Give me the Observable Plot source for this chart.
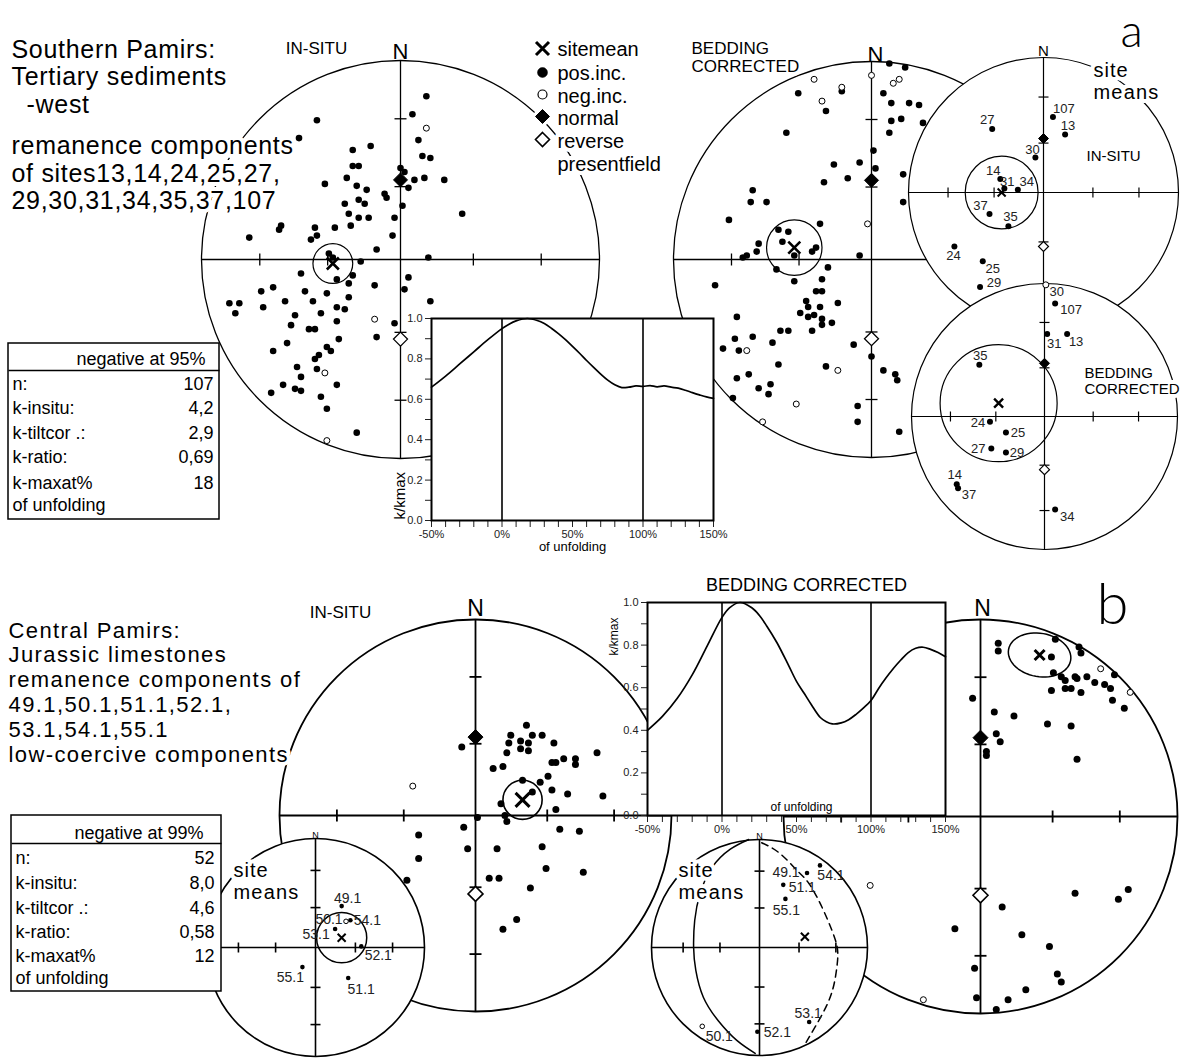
<!DOCTYPE html>
<html>
<head>
<meta charset="utf-8">
<title>Pamirs palaeomagnetic fold tests</title>
<script src="https://cdn.jsdelivr.net/npm/d3@7"></script>
<script src="https://cdn.jsdelivr.net/npm/@observablehq/plot@0.6"></script>
<style>
  html, body { margin: 0; padding: 0; background: #fff; }
  #figure { position: relative; width: 1184px; height: 1058px; overflow: hidden; background: #fff; }
  #figure > svg { position: absolute; }
</style>
</head>
<body>
<div id="figure"></div>
<script>
// ======================= DATA =======================
// Directions are equal-area net coordinates (east, north), in percent of the net radius.

// (a) Southern Pamirs, Tertiary sediments (west) – specimen directions
const spInsituDown = [[13,82],[6,73],[-42,70],[-51,61],[-15,57],[-24,55],[9,60],[11,52],[15,51],[-24,47],[-21,47],[0,46],[2,44],[4,36],[7,40],[12,41],[22,40],[-38,38],[-27,41],[-22,37],[-17,35],[-8,33],[-7,31],[-21,30],[-18,28],[-28,28],[1,27],[-26,23],[-21,21],[-16,21],[-3,21],[-25,17],[-33,16],[-43,16],[-60,17],[-61,15],[-76,11],[-42,12],[-45,10],[-4,12],[-12,5],[-36,3],[-34,1],[-20,-1],[14,1],[31,23],
  [-50,-7],[-32,-10],[-24,-8],[-26,-12],[-64,-14],[-70,-16],[-48,-16],[-37,-17],[-26,-19],[-13,-13],[2,-15],[4,-9],[15,-21],[-86,-22],[-81,-22],[-83,-27],[-69,-24],[-58,-21],[-44,-21],[-53,-28],[-40,-27],[-32,-24],[-28,-25],[-32,-31],[-55,-33],[-46,-35],[-43,-35],[-3,-32],[-12,-39],[-31,-40],[-64,-46],[-57,-42],[-37,-44],[-35,-46],[-41,-48],[-43,-50],[-52,-54],[-42,-55],[-50,-59],[-59,-63],[-65,-67],[-53,-65],[-50,-66],[-32,-63],[-40,-69],[-37,-75],[-22,-87]];
const spInsituUp = [[13,66],[-13,-30],[-38,-57],[-37,-91]];
const spTiltDown = [[9,99],[17,97],[-15,85],[-37,84],[-23,75],[6,84],[10,79],[19,79],[24,78],[10,70],[15,71],[26,69],[9,64],[-43,64],[1,55],[-19,48],[-6,49],[2,46],[-12,41],[-24,39],[16,43],[16,29],[-60,35],[-61,29],[-53,29],[-72,20],[-47,15],[-42,14],[-26,18],[-45,9],[-57,8],[-58,4],[-28,6],[-30,4],[-65,1],[-63,2],[-39,2],[-6,2],
  [-48,-5],[-39,-11],[-22,-4],[-25,-10],[-79,-13],[-28,-16],[-25,-16],[-33,-21],[-17,-22],[-32,-24],[-26,-24],[-36,-27],[-32,-29],[-29,-28],[-25,-30],[-25,-33],[-20,-32],[-68,-29],[-46,-36],[-42,-36],[-30,-36],[-60,-39],[-69,-40],[-50,-42],[-75,-45],[-67,-46],[-9,-43],[0,-49],[-47,-53],[-23,-54],[6,-56],[12,-58],[13,-61],[-62,-58],[-68,-60],[-57,-65],[-51,-63],[-52,-68],[-70,-70],[-7,-74],[-7,-82],[14,-87]];
const spTiltUp = [[-29,91],[0,93],[11,89],[14,91],[-15,87],[-25,80],[-2,18],[-63,-46],[-17,-56],[-38,-73],[-55,-82]];
const spInsituMean = [-34, -2], spInsituA95 = 10;
const spTiltMean = [-39, 6], spTiltA95 = 14;

// (a) site means
const spSites = ["13","14","24","25","27","29","30","31","34","35","37","107"];
const spSiteInsitu = [[16,43],[-32,10],[-66,-40],[-45,-51],[-38,47],[-47,-70],[-6,26],[-29,3],[-19,2],[-26,-25],[-40,-16],[7,56]];
const spSiteTilt = [[17,62],[-66,-51],[-41,-4],[-29,-12],[-40,-24],[-29,-27],[1,99],[2,62],[8,-70],[-49,39],[-65,-54],[8,85]];
const spSiteInsituUp = [];
const spSiteTiltUp = ["30"];
const spSiteInsituMean = [-31, 0], spSiteInsituA95 = 27;
const spSiteTiltMean = [-34.5, 10], spSiteTiltA95 = 44;

// (b) Central Pamirs, Jurassic limestones – specimen directions
const cpInsituDown = [[-7,35],[26,46],[18,41],[29,41],[34,41],[17,37],[23,38],[27,37],[23,34],[27,33],[16,32],[40,37],[9,24],[14,25],[39,27],[41,27],[45,29],[51,29],[51,26],[62,32],[37,20],[33,17],[24,18],[29,12],[39,13],[47,11],[65,10],[13,6],[41,3],[1,-1],[15,0],[16,-3],[-6,-6],[-29,-10],[43,-7],[53,-8],[-4,-17],[11,-17],[34,-16],[-29,-22],[36,-27],[55,-29],[-35,-33],[7,-32],[12,-32],[28,-37],[21,-53],[14,-58]];
const cpInsituUp = [[-32,15]];
const cpTiltDown = [[9,88],[9,84],[38,90],[36,81],[50,86],[51,83],[68,72],[37,73],[41,71],[43,69],[48,71],[49,70],[54,71],[43,65],[46,65],[36,64],[51,63],[58,68],[63,67],[66,65],[67,59],[73,55],[-4,60],[7,53],[17,51],[34,47],[46,46],[8,42],[10,38],[3,33],[3,31],[49,29],
  [48,-39],[75,-37],[70,-42],[11,-46],[-13,-57],[21,-60],[35,-66],[-3,-77],[39,-80],[41,-84],[23,-88],[14,-93],[-2,-92],[8,-98]];
const cpTiltUp = [[61,75],[76,63],[-29,-93],[-56,-35]];
const cpInsituMean = [24, 8], cpInsituA95 = 10;
const cpTiltMean = [30, 82];
const cpTiltConfidence = {major: 16, minor: 11, tilt: -10};

// (b) site means
const cpSites = ["49.1","50.1","51.1","52.1","53.1","54.1","55.1"];
const cpSiteInsitu = [[24,38],[28,24],[30,-28],[42,1],[18,17],[32,25],[-12,-18]];
const cpSiteTilt = [[44,69],[-53,-73],[22,58],[-2,-78],[46,-69],[56,76],[24,45]];
const cpSiteUp = ["50.1"];
const cpSiteInsituMean = [24, 9], cpSiteInsituA95 = 23;
const cpSiteTiltMean = [42, 10];
const cpGreatCircleSolid = [[-10,100],[-27,91],[-44,74],[-55,50],[-60,25],[-61,0],[-59,-21],[-52,-46],[-38,-68],[-21,-86],[-4,-98]];
const cpGreatCircleDashed = [[2,97],[19,87],[35,71],[46,59],[58,37],[67,16],[72,0],[72,-15],[69,-34],[63,-52],[53,-71],[43,-88]];

// present geomagnetic field direction
const fieldNormal = [0, 40];
const fieldReverse = [0, -40];

// fold tests: k / kmax against percentage of unfolding
const unfoldingA = [-50,-40,-30,-20,-10,0,5,10,18,25,30,35,40,45,50,55,60,65,70,75,80,85,90,95,100,105,110,115,120,125,130,135,140,145,150];
const kRatioA = [0.66,0.715,0.775,0.835,0.895,0.95,0.972,0.988,1.0,0.99,0.975,0.952,0.925,0.895,0.862,0.828,0.792,0.758,0.725,0.695,0.672,0.658,0.66,0.666,0.664,0.668,0.662,0.666,0.66,0.655,0.645,0.633,0.622,0.612,0.605];
const unfoldingB = [-50,-40,-30,-20,-10,0,5,12,20,25,30,37,45,50,55,60,66,70,74,80,85,90,95,100,105,110,115,120,125,130,135,140,145,150];
const kRatioB = [0.40,0.465,0.55,0.66,0.795,0.93,0.975,1.0,0.975,0.94,0.89,0.81,0.70,0.63,0.575,0.52,0.46,0.44,0.43,0.435,0.45,0.475,0.505,0.54,0.595,0.645,0.69,0.73,0.765,0.785,0.79,0.78,0.765,0.745];

// statistics tables
const statLabels = ["n:", "k-insitu:", "k-tiltcor .:", "k-ratio:", "k-maxat%", "of unfolding"];
const statsA = ["107", "4,2", "2,9", "0,69", "18", ""];
const statsB = ["52", "8,0", "4,6", "0,58", "12", ""];
const statHeaderA = "negative at 95%";
const statHeaderB = "negative at 99%";

// texts
const titleA = ["Southern Pamirs:", "Tertiary sediments", "-west"];
const subtitleA = ["remanence components", "of sites13,14,24,25,27,", "29,30,31,34,35,37,107"];
const titleB = ["Central Pamirs:", "Jurassic limestones", "remanence components of", "49.1,50.1,51.1,52.1,", "53.1,54.1,55.1", "low-coercive components"];
const legendLabels = ["sitemean", "pos.inc.", "neg.inc.", "normal", "reverse", "presentfield"];

// ======================= LAYOUT =======================
const FONT = "'Liberation Sans', Arial, Helvetica, sans-serif";
const nets = {
  spInsitu: {cx: 400, cy: 259, R: 199, lw: 1.3, tick: 6},
  spTilt:   {cx: 871, cy: 259, R: 198, lw: 1.3, tick: 6},
  spSiteIn: {cx: 1043, cy: 192, R: 135, lw: 1.2, tick: 5},
  spSiteTc: {cx: 1044, cy: 416, R: 133, lw: 1.2, tick: 5},
  cpInsitu: {cx: 475, cy: 815, R: 196, lw: 1.8, tick: 6},
  cpTilt:   {cx: 980, cy: 816, R: 197, lw: 1.8, tick: 6},
  cpSiteIn: {cx: 315, cy: 947, R: 109, lw: 1.6, tick: 5},
  cpSiteTc: {cx: 759, cy: 947, R: 108, lw: 1.6, tick: 5}
};
// label offsets (px) of the site numbers
const spSiteInsituLabel = {"13":[3,-9],"14":[-7,-8],"24":[-1,9],"25":[10,7],"27":[-5,-9],"29":[14,-4],"30":[-3,-8],"31":[3,-7],"34":[9,-8],"35":[2,-9],"37":[-9,-8],"107":[11,-8]};
const spSiteTiltLabel = {"13":[9,8],"14":[-2,-10],"24":[-12,1],"25":[12,0],"27":[-13,0],"29":[11,0],"30":[11,7],"31":[7,10],"34":[12,7],"35":[1,-9],"37":[11,7],"107":[16,6]};
const cpSiteInsituLabel = {"49.1":[6,-8],"50.1":[-17,-2],"51.1":[13,11],"52.1":[17,9],"53.1":[-19,6],"54.1":[17,0],"55.1":[-12,10]};
const cpSiteTiltLabel = {"49.1":[-21,0],"50.1":[17,10],"51.1":[19,3],"52.1":[20,1],"53.1":[-1,-9],"54.1":[11,10],"55.1":[1,12]};
// extra letter spacing (px) of the wide heading lettering
const letterSpacing = new Map([
  ...titleA.map(t => [t, 0.7]), ...subtitleA.map(t => [t, 0.7]),
  ...titleB.map(t => [t, 1.4]), ["site", 1], ["means", 1.2]
]);

// ======================= HELPERS =======================
const fig = document.getElementById("figure");
function place(svg, left, top) {
  svg.style.position = "absolute";
  svg.style.left = `${left}px`;
  svg.style.top = `${top}px`;
  fig.appendChild(svg);
}
const E = d => d[0], N = d => d[1];
const cross = h => ({draw(ctx) { ctx.moveTo(-h, -h); ctx.lineTo(h, h); ctx.moveTo(h, -h); ctx.lineTo(-h, h); }});
const rhomb = h => ({draw(ctx) { ctx.moveTo(0, -h); ctx.lineTo(h, 0); ctx.lineTo(0, h); ctx.lineTo(-h, 0); ctx.closePath(); }});

// equal-area radius (percent) of the 30° and 60° inclination ticks
const tickInclinations = [30, 60];
const eqAreaRadius = inc => Math.SQRT2 * Math.sin(((90 - inc) / 2) * Math.PI / 180) * 100;

function drawNet(L, marks) {
  const pad = 18, size = 2 * L.R + 2 * pad;
  const t = (L.tick / L.R) * 100;
  const rho = tickInclinations.map(eqAreaRadius).flatMap(r => [r, -r]);
  const seg = {x1: "x1", y1: "y1", x2: "x2", y2: "y2", stroke: "black", strokeWidth: L.lw};
  const svg = Plot.plot({
    width: size, height: size, margin: pad,
    x: {domain: [-100, 100], axis: null},
    y: {domain: [-100, 100], axis: null},
    style: {background: "transparent", overflow: "visible", fontFamily: FONT},
    marks: [
      Plot.dot([{e: 0, n: 0}], {x: "e", y: "n", r: L.R, fill: "white", stroke: "black", strokeWidth: L.lw}),
      Plot.link([{x1: -100, y1: 0, x2: 100, y2: 0}, {x1: 0, y1: -100, x2: 0, y2: 100}], seg),
      Plot.link(rho.map(r => ({x1: r, x2: r, y1: -t, y2: t})), seg),
      Plot.link(rho.map(r => ({x1: -t, x2: t, y1: r, y2: r})), seg),
      ...marks
    ]
  });
  place(svg, L.cx - L.R - pad, L.cy - L.R - pad);
}
const downDots = (data, r) => Plot.dot(data, {x: E, y: N, r, fill: "black", stroke: "none"});
const upDots = (data, r) => Plot.dot(data, {x: E, y: N, r, fill: "white", stroke: "black", strokeWidth: 1});
const fieldMarks = (h, sw) => [
  Plot.dot([fieldNormal], {x: E, y: N, symbol: rhomb(h), fill: "black", stroke: "black", strokeWidth: 1}),
  Plot.dot([fieldReverse], {x: E, y: N, symbol: rhomb(h), fill: "white", stroke: "black", strokeWidth: sw})
];
const meanMark = (m, h, sw) => Plot.dot([m], {x: E, y: N, symbol: cross(h), fill: "none", stroke: "black", strokeWidth: sw});
const coneMark = (m, a95, L, sw) => Plot.dot([m], {x: E, y: N, r: (a95 / 100) * L.R, fill: "none", stroke: "black", strokeWidth: sw});
function siteMarks(sites, coords, up, offsets, r, fontSize) {
  const rec = sites.map((s, i) => ({site: s, e: coords[i][0], n: coords[i][1], up: up.includes(s)}));
  return [
    Plot.dot(rec.filter(d => !d.up), {x: "e", y: "n", r, fill: "black"}),
    Plot.dot(rec.filter(d => d.up), {x: "e", y: "n", r, fill: "white", stroke: "black", strokeWidth: 1}),
    ...rec.map(d => Plot.text([d], {x: "e", y: "n", text: "site", dx: offsets[d.site][0], dy: offsets[d.site][1],
      fontSize, fill: "#222", lineAnchor: "middle", textAnchor: "middle", fontFamily: FONT}))
  ];
}

// ======================= NETS =======================
drawNet(nets.spInsitu, [
  coneMark(spInsituMean, spInsituA95, nets.spInsitu, 1.2),
  downDots(spInsituDown, 3.3), upDots(spInsituUp, 3),
  ...fieldMarks(7, 1.3),
  meanMark(spInsituMean, 6, 2.6)
]);
drawNet(nets.spTilt, [
  coneMark(spTiltMean, spTiltA95, nets.spTilt, 1.2),
  downDots(spTiltDown, 3.3), upDots(spTiltUp, 3),
  ...fieldMarks(7, 1.3),
  meanMark(spTiltMean, 6, 2.6)
]);
drawNet(nets.spSiteIn, [
  coneMark(spSiteInsituMean, spSiteInsituA95, nets.spSiteIn, 1.2),
  ...siteMarks(spSites, spSiteInsitu, spSiteInsituUp, spSiteInsituLabel, 3, 13),
  ...fieldMarks(5, 1.2),
  meanMark(spSiteInsituMean, 4, 2)
]);
drawNet(nets.spSiteTc, [
  coneMark(spSiteTiltMean, spSiteTiltA95, nets.spSiteTc, 1.2),
  ...siteMarks(spSites, spSiteTilt, spSiteTiltUp, spSiteTiltLabel, 3, 13),
  ...fieldMarks(5, 1.2),
  meanMark(spSiteTiltMean, 4.5, 2.4)
]);

// confidence ellipse of the tilt-corrected Central Pamirs mean
const phi = cpTiltConfidence.tilt * Math.PI / 180;
const cpTiltEllipse = d3.range(0, 361, 6).map(a => {
  const t = a * Math.PI / 180, u = cpTiltConfidence.major * Math.cos(t), v = cpTiltConfidence.minor * Math.sin(t);
  return [cpTiltMean[0] + u * Math.cos(phi) - v * Math.sin(phi), cpTiltMean[1] + u * Math.sin(phi) + v * Math.cos(phi)];
});

drawNet(nets.cpInsitu, [
  coneMark(cpInsituMean, cpInsituA95, nets.cpInsitu, 1.6),
  downDots(cpInsituDown, 3.5), upDots(cpInsituUp, 3),
  ...fieldMarks(7.5, 1.6),
  meanMark(cpInsituMean, 7, 3)
]);
drawNet(nets.cpTilt, [
  Plot.line(cpTiltEllipse, {x: E, y: N, stroke: "black", strokeWidth: 1.5}),
  downDots(cpTiltDown, 3.5), upDots(cpTiltUp, 3),
  ...fieldMarks(7.5, 1.6),
  meanMark(cpTiltMean, 5, 3)
]);
drawNet(nets.cpSiteTc, [
  Plot.line(cpGreatCircleSolid, {x: E, y: N, curve: "natural", stroke: "black", strokeWidth: 1.5}),
  Plot.line(cpGreatCircleDashed, {x: E, y: N, curve: "natural", stroke: "black", strokeWidth: 1.5, strokeDasharray: "7,5"}),
  ...siteMarks(cpSites, cpSiteTilt, cpSiteUp, cpSiteTiltLabel, 2.3, 14),
  meanMark(cpSiteTiltMean, 4, 2)
]);
drawNet(nets.cpSiteIn, [
  coneMark(cpSiteInsituMean, cpSiteInsituA95, nets.cpSiteIn, 1.5),
  ...siteMarks(cpSites, cpSiteInsitu, cpSiteUp, cpSiteInsituLabel, 2.3, 14),
  meanMark(cpSiteInsituMean, 4, 2)
]);

// ======================= TEXT & TABLES =======================
const halo = {fill: "black", stroke: "white", strokeWidth: 8, paintOrder: "stroke", strokeLinejoin: "round", fontFamily: FONT};
const lines = (texts, xs, ys, fontSize, extra = {}) => Plot.text(texts, {
  x: (d, i) => (Array.isArray(xs) ? xs[i] : xs), y: (d, i) => ys[i], text: d => d,
  fontSize, textAnchor: "start", lineAnchor: "bottom", ...halo, ...extra
});
function tableMarks(header, values, T) {
  return [
    Plot.rect([T], {x1: "x1", x2: "x2", y1: "y1", y2: "y2", fill: "white", stroke: "black", strokeWidth: 1.5}),
    Plot.link([T], {x1: "x1", x2: "x2", y1: "sep", y2: "sep", stroke: "black", strokeWidth: 1.5}),
    Plot.text([header], {x: () => T.headerX, y: () => T.headerY, text: d => d, textAnchor: "end", lineAnchor: "bottom", fontSize: 18, fontFamily: FONT}),
    Plot.text(statLabels, {x: () => T.labelX, y: (d, i) => T.rowY[i], text: d => d, textAnchor: "start", lineAnchor: "bottom", fontSize: 18, fontFamily: FONT}),
    Plot.text(values, {x: () => T.valueX, y: (d, i) => T.rowY[i], text: d => d, textAnchor: "end", lineAnchor: "bottom", fontSize: 18, fontFamily: FONT})
  ];
}
const tableA = {x1: 8, x2: 219, y1: 343, y2: 519, sep: 370, headerX: 205, headerY: 364, labelX: 12, valueX: 213, rowY: [389, 413, 438, 462, 488, 510]};
const tableB = {x1: 11, x2: 221, y1: 815, y2: 991, sep: 843, headerX: 203, headerY: 838, labelX: 15, valueX: 214, rowY: [863, 888, 913, 937, 961, 983]};

const legendY = [48, 72, 94, 116, 139];
const legendSymbols = [
  {symbol: cross(6.5), fill: "none", stroke: "black", strokeWidth: 3},
  {r: 5, fill: "black", stroke: "black", strokeWidth: 0.5},
  {r: 4.5, fill: "white", stroke: "black", strokeWidth: 1.2},
  {symbol: rhomb(7), fill: "black", stroke: "black", strokeWidth: 1},
  {symbol: rhomb(7), fill: "white", stroke: "black", strokeWidth: 1.6}
];
const northLabels = [
  {x: 400, y: 58, s: 22}, {x: 875, y: 61, s: 22}, {x: 1043, y: 55, s: 15},
  {x: 475, y: 615, s: 23}, {x: 982, y: 615, s: 23}, {x: 315, y: 837, s: 9}, {x: 759, y: 838, s: 9}
];

const annotation = Plot.plot({
  width: 1184, height: 1058, margin: 0,
  x: {domain: [0, 1184], range: [0, 1184], axis: null},
  y: {domain: [0, 1058], range: [0, 1058], axis: null},
  style: {background: "transparent", overflow: "visible", fontFamily: FONT},
  marks: [
    // (a) headings
    lines(titleA, [11, 11, 26], [57, 84, 112], 25),
    lines(subtitleA, 11, [153, 181, 208], 25),
    lines(["IN-SITU"], 316, [53], 17, {textAnchor: "middle"}),
    lines(["BEDDING", "CORRECTED"], 691, [53, 71], 17),
    lines(["site", "means"], 1093, [76, 98.5], 20),
    lines(["IN-SITU"], 1086, [160], 15),
    lines(["BEDDING", "CORRECTED"], 1084, [377, 393], 15),
    // legend
    ...legendSymbols.map((s, i) => Plot.dot([i], {x: () => 542, y: () => legendY[i], ...s, stroke: "white", strokeWidth: 7, fill: "white"})),
    ...legendSymbols.map((s, i) => Plot.dot([i], {x: () => 542, y: () => legendY[i], ...s})),
    lines(legendLabels, 557, [55, 79, 102, 124, 147, 170], 20),
    // (b) headings
    lines(titleB, 8, [637, 661.8, 686.6, 711.4, 736.2, 761], 22),
    lines(["IN-SITU"], 340, [617], 17, {textAnchor: "middle"}),
    lines(["site", "means"], 233, [876, 898.5], 20),
    lines(["site", "means"], 678, [876, 898.5], 20),
    // north labels
    Plot.text(northLabels, {x: "x", y: "y", text: () => "N", fontSize: d => d.s, textAnchor: "middle", lineAnchor: "bottom", fontFamily: FONT}),
    // panel letters
    Plot.text(["a", "b"], {x: (d, i) => [1131, 1112][i], y: (d, i) => [46, 623][i], text: d => d, fontSize: (d, i) => [46, 58][i],
      fontWeight: 300, textAnchor: "middle", lineAnchor: "bottom", fontFamily: "Lato, 'Open Sans', sans-serif"}),
    // statistics tables
    ...tableMarks(statHeaderA, statsA, tableA),
    ...tableMarks(statHeaderB, statsB, tableB)
  ]
});
// widen the heading lettering
annotation.querySelectorAll("text").forEach(el => {
  const s = letterSpacing.get(el.textContent);
  if (s) el.style.letterSpacing = `${s}px`;
});
place(annotation, 0, 0);

// ======================= FOLD-TEST CURVES =======================
const xTicks = d3.range(-50, 151, 10);
const yTicks = d3.range(0, 1.0001, 0.1);
const axisStyle = {background: "transparent", overflow: "visible", fontFamily: FONT, fontSize: "11px", color: "#222"};
function foldChart(unfolding, k, dims, extraMarks) {
  return Plot.plot({
    ...dims,
    x: {domain: [-50, 150], ticks: xTicks, tickFormat: d => (d % 50 === 0 ? `${d}%` : ""), tickSize: 7, label: null},
    y: {domain: [0, 1], ticks: yTicks, tickFormat: d => (Math.round(d * 10) % 2 === 0 ? d.toFixed(1) : ""), tickSize: 6, label: null},
    style: axisStyle,
    marks: [
      Plot.rect([0], {x1: -50, x2: 150, y1: 0, y2: 1, fill: "white"}),
      Plot.ruleX([0, 100], {stroke: "black", strokeWidth: 1.6}),
      Plot.line(unfolding.map((u, i) => ({u, k: k[i]})), {x: "u", y: "k", curve: "catmull-rom", stroke: "black", strokeWidth: 1.7}),
      Plot.frame({stroke: "black", strokeWidth: 2}),
      ...extraMarks
    ]
  });
}
const chartA = foldChart(unfoldingA, kRatioA,
  {width: 339, height: 254, marginLeft: 45, marginRight: 12, marginTop: 12, marginBottom: 40},
  [
    Plot.text(["of unfolding"], {frameAnchor: "bottom", text: d => d, dy: 26, fontSize: 13, lineAnchor: "middle", fill: "black"}),
    Plot.text(["k/kmax"], {frameAnchor: "bottom-left", text: d => d, rotate: -90, textAnchor: "start", lineAnchor: "middle", dx: -31, dy: -1, fontSize: 15, fill: "black"})
  ]);
place(chartA, 386, 306);

const chartB = foldChart(unfoldingB, kRatioB,
  {width: 358, height: 275, marginLeft: 45, marginRight: 15, marginTop: 32, marginBottom: 30},
  [
    Plot.text(["BEDDING CORRECTED"], {frameAnchor: "top", text: d => d, dx: 10, dy: -17, fontSize: 18, lineAnchor: "middle", fill: "black"}),
    Plot.text(["of unfolding"], {frameAnchor: "bottom", text: d => d, dx: 5, dy: -8, fontSize: 12, lineAnchor: "middle", fill: "black"}),
    Plot.text(["k/kmax"], {frameAnchor: "top-left", text: d => d, rotate: -90, textAnchor: "end", lineAnchor: "middle", dx: -33, dy: 15, fontSize: 12, fill: "black"})
  ]);
place(chartB, 602, 570);
</script>
</body>
</html>
